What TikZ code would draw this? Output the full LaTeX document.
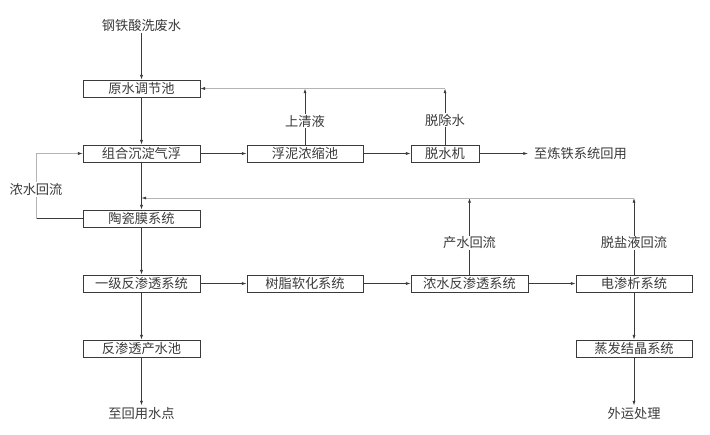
\documentclass[tikz,border=0pt]{standalone}
\usepackage{fontspec}
\setmainfont{Noto Sans CJK SC}
\usetikzlibrary{arrows.meta}
\definecolor{ink}{HTML}{3A3A3A}
\definecolor{pale}{HTML}{B4B4B4}

\begin{document}
\begin{tikzpicture}[x=0.03cm, y=-0.03cm, font=\fontsize{11.3}{13}\selectfont,
	main/.style = {draw=ink, line width=0.6pt, rectangle, minimum width=3.51cm, minimum height=0.51cm, inner sep=0pt, text=ink},
	word/.style = {text=ink, inner sep=1pt},
	flow/.style = {draw=ink, line width=0.6pt, -{Latex[length=4pt,width=2.6pt,color=ink]}},
	fbk/.style = {draw=pale, line width=0.5pt, -{Latex[length=4pt,width=2.6pt,color=ink]}}]
	\useasboundingbox (0,0) rectangle (710,434);
	% main line
	\node (1) [main] at (141.5,88.5) {原水调节池};
	\node (2) [main] at (141.5,153.5) {组合沉淀气浮};
	\node (3) [main] at (141.5,218.5) {陶瓷膜系统};
	\node (4) [main] at (141.5,283.5) {一级反渗透系统};
	\node (5) [main] at (141.5,348.5) {反渗透产水池};
	\node (6) [main, minimum width=3.48cm] at (305,153.5) {浮泥浓缩池};
	\node (7) [main, minimum width=2.04cm] at (445,153.5) {脱水机};
	\node (8) [main, minimum width=3.48cm] at (305,283.5) {树脂软化系统};
	\node (9) [main] at (469.5,283.5) {浓水反渗透系统};
	\node (10) [main, minimum width=3.48cm] at (634,283.5) {电渗析系统};
	\node (11) [main, minimum width=3.48cm] at (634,348.5) {蒸发结晶系统};
	% in and out
	\node (12) [word] at (141.5,25) {钢铁酸洗废水};
	\node (13) [word] at (141.5,413) {至回用水点};
	\node (14) [word, anchor=west, inner xsep=5pt] at (528,153.5) {至炼铁系统回用};
	\node (15) [word] at (634,413) {外运处理};
	\coordinate (r) at (141.5,198);
	\coordinate (c) at (36,218.5);
	\draw[flow] (12) -- (1);
	\draw[flow] (1) -- (2);
	\draw[flow] (2) -- (3);
	\draw[flow] (3) -- (4);
	\draw[flow] (4) -- (5);
	\draw[flow] (5) -- (13);
	\draw[flow] (2) -- (6);
	\draw[flow] (6) -- (7);
	\draw[flow] (7) -- (14);
	\draw[flow] (4) -- (8);
	\draw[flow] (8) -- (9);
	\draw[flow] (9) -- (10);
	\draw[flow] (10) -- (11);
	\draw[flow] (11) -- (15);
	% returns
	\draw[flow] (6) -- (6 |- 1.east) node[pos=0.42, word, fill=white] {上清液};
	\draw[flow] (7) -- (7 |- 1.east) node[pos=0.44, word, fill=white] {脱除水};
	\draw[fbk] (7 |- 1.east) -- (1.east);
	\draw[flow] (9) -- (9 |- r) node[pos=0.415, word, fill=white] {产水回流};
	\draw[flow] (10) -- (10 |- r) node[pos=0.415, word, fill=white] {脱盐液回流};
	\draw[fbk] (10 |- r) -- (r);
	\draw[draw=ink, line width=0.6pt] (3.west) -- (c);
	\draw[fbk] (c) -- (c |- 2.west) node[pos=0.45, word, fill=white] {浓水回流} -- (2.west);
\end{tikzpicture}
\end{document}
